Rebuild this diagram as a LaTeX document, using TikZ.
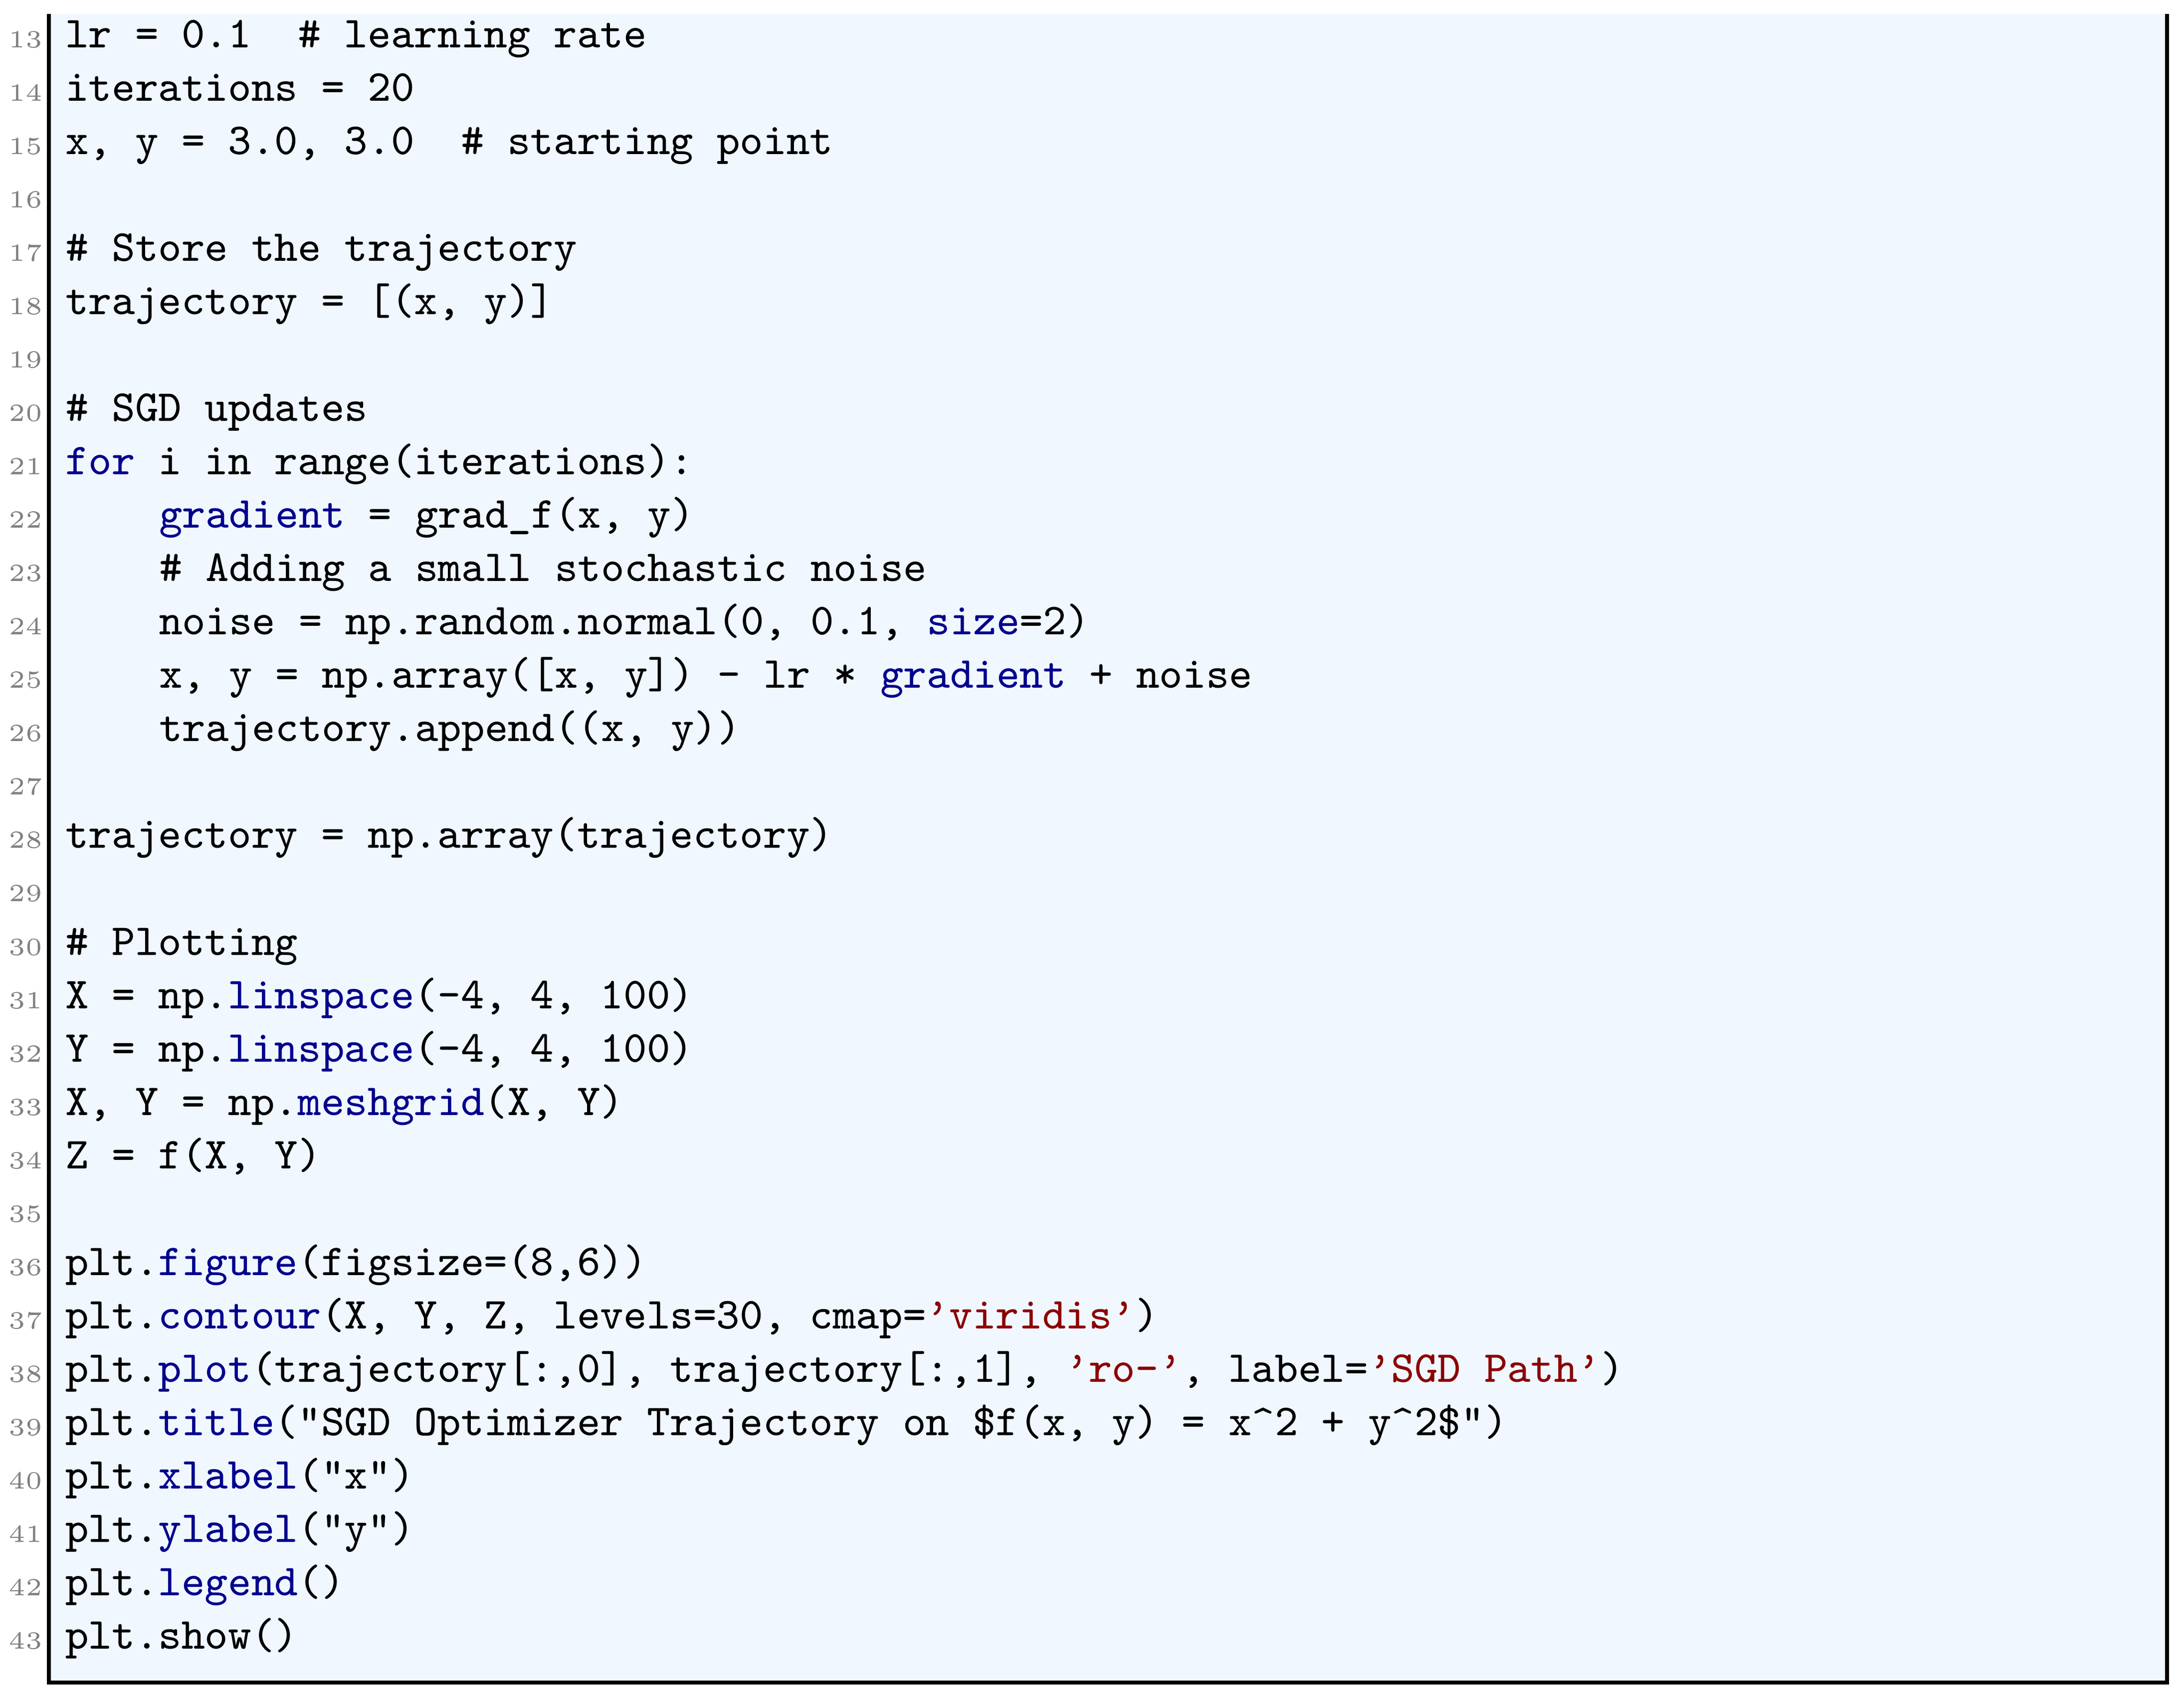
\documentclass[tikz,border=0pt]{standalone}
\usepackage{tikz}
\definecolor{codebg}{rgb}{0.94,0.97,1}
\definecolor{kwblue}{rgb}{0,0,0.55}
\definecolor{strred}{rgb}{0.55,0,0}
\tikzset{code/.style={anchor=base west,inner sep=0pt,font=\fontsize{9}{10}\selectfont\ttfamily}}
\tikzset{num/.style={anchor=base east,inner sep=0pt,text=gray,font=\fontsize{5}{5}\selectfont}}
\newcommand{\kw}[1]{\textcolor{kwblue}{#1}}
\newcommand{\str}[1]{\textcolor{strred}{\textquoteright#1\textquoteright}}
\newcommand{\codeln}[3]{\node[num] (n#1) at (31,{34+38.13*(#1-13)}) {#1};
  \node[code] (l#1) at (#2,{34+38.13*(#1-13)}) {#3};}
\begin{document}
\begin{tikzpicture}[x=0.01cm,y=-0.01cm]
        \useasboundingbox (0,0) rectangle (1560,1215);
        \fill[codebg] (35,10) rectangle (1548,1202);
        \draw[line width=0.8pt] (35,10) -- (35,1202) -- (1548,1202) -- (1548,10);
        \codeln{13}{46}{lr = 0.1\ \ \# learning rate}
        \codeln{14}{46}{iterations = 20}
        \codeln{15}{46}{x, y = 3.0, 3.0\ \ \# starting point}
        \codeln{16}{46}{}
        \codeln{17}{46}{\# Store the trajectory}
        \codeln{18}{46}{trajectory = [(x, y)]}
        \codeln{19}{46}{}
        \codeln{20}{46}{\# SGD updates}
        \codeln{21}{46}{\kw{for} i in range(iterations):}
        \codeln{22}{113}{\kw{gradient} = grad\_f(x, y)}
        \codeln{23}{113}{\# Adding a small stochastic noise}
        \codeln{24}{113}{noise = np.random.normal(0, 0.1, \kw{size}=2)}
        \codeln{25}{113}{x, y = np.array([x, y]) - lr * \kw{gradient} + noise}
        \codeln{26}{113}{trajectory.append((x, y))}
        \codeln{27}{46}{}
        \codeln{28}{46}{trajectory = np.array(trajectory)}
        \codeln{29}{46}{}
        \codeln{30}{46}{\# Plotting}
        \codeln{31}{46}{X = np.\kw{linspace}(-4, 4, 100)}
        \codeln{32}{46}{Y = np.\kw{linspace}(-4, 4, 100)}
        \codeln{33}{46}{X, Y = np.\kw{meshgrid}(X, Y)}
        \codeln{34}{46}{Z = f(X, Y)}
        \codeln{35}{46}{}
        \codeln{36}{46}{plt.\kw{figure}(figsize=(8,6))}
        \codeln{37}{46}{plt.\kw{contour}(X, Y, Z, levels=30, cmap=\str{viridis})}
        \codeln{38}{46}{plt.\kw{plot}(trajectory[:,0], trajectory[:,1], \str{ro-}, label=\str{SGD Path})}
        \codeln{39}{46}{plt.\kw{title}("SGD Optimizer Trajectory on \$f(x, y) = x\textasciicircum 2 + y\textasciicircum 2\$")}
        \codeln{40}{46}{plt.\kw{xlabel}("x")}
        \codeln{41}{46}{plt.\kw{ylabel}("y")}
        \codeln{42}{46}{plt.\kw{legend}()}
        \codeln{43}{46}{plt.show()}
      \end{tikzpicture}
\end{document}
